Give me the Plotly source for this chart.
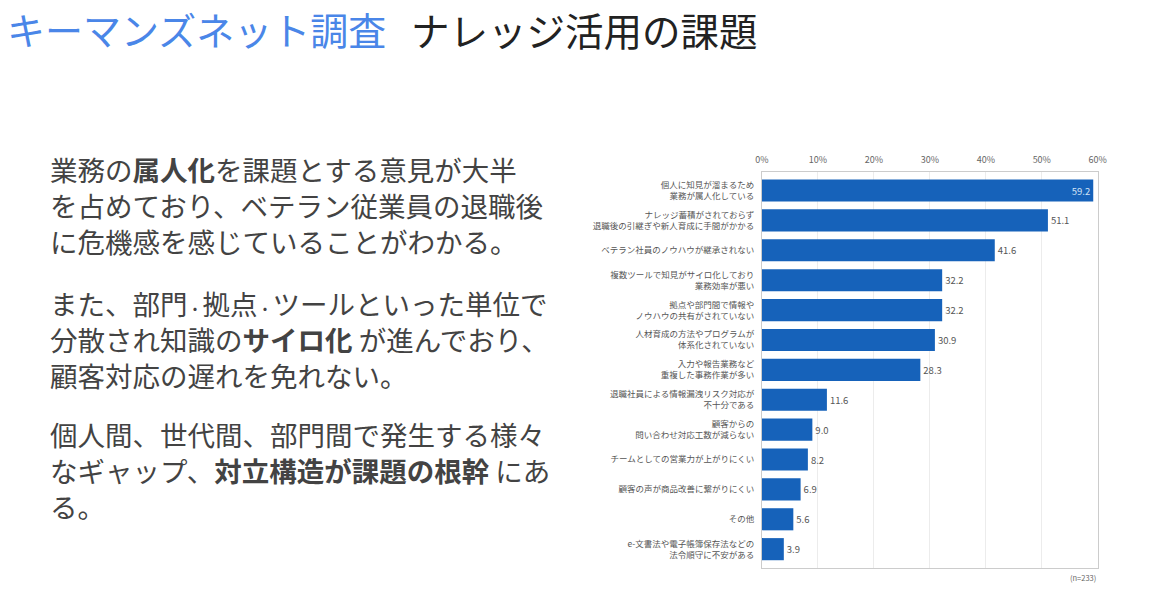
import plotly.graph_objects as go

# ---- data ----
categories = [
    "個人に知見が溜まるため<br>業務が属人化している",
    "ナレッジ蓄積がされておらず<br>退職後の引継ぎや新人育成に手間がかかる",
    "ベテラン社員のノウハウが継承されない",
    "複数ツールで知見がサイロ化しており<br>業務効率が悪い",
    "拠点や部門間で情報や<br>ノウハウの共有がされていない",
    "人材育成の方法やプログラムが<br>体系化されていない",
    "入力や報告業務など<br>重複した事務作業が多い",
    "退職社員による情報漏洩リスク対応が<br>不十分である",
    "顧客からの<br>問い合わせ対応工数が減らない",
    "チームとしての営業力が上がりにくい",
    "顧客の声が商品改善に繋がりにくい",
    "その他",
    "e-文書法や電子帳簿保存法などの<br>法令順守に不安がある",
]
values = [59.2, 51.1, 41.6, 32.2, 32.2, 30.9, 28.3, 11.6, 9.0, 8.2, 6.9, 5.6, 3.9]
x_ticks = [0, 10, 20, 30, 40, 50, 60]
x_tick_labels = ["0%", "10%", "20%", "30%", "40%", "50%", "60%"]
sample_note = "(n=233)"

title_blue = "キーマンズネット調査"
title_black = "ナレッジ活用の課題"
DOT = '<span style="font-size:15px">・</span>'
paragraphs = [
    ["業務の<b>属人化</b>を課題とする意見が大半",
     "を占めており、ベテラン従業員の退職後",
     "に危機感を感じていることがわかる。"],
    ["また、部門" + DOT + "拠点" + DOT + "ツールといった単位で",
     "分散され知識の<b>サイロ化</b> が進んでおり、",
     "顧客対応の遅れを免れない。"],
    ["個人間、世代間、部門間で発生する様々",
     "なギャップ、<b>対立構造が課題の根幹</b> にあ",
     "る。"],
]

# ---- layout geometry (screen pixels) ----
W, H = 1155, 613
L, R, T, B = 762, 1098, 172, 568
PW, PH = R - L, B - T


def px(x):
    return (x - L) / PW


def py(y):
    return (B - y) / PH


bar_color = "#1662BA"
n = len(values)
text_pos = ["inside" if v > 55 else "outside" for v in values]
text_col = ["#d3e2f6" if v > 55 else "#555555" for v in values]

fig = go.Figure(
    go.Bar(
        y=categories,
        x=values,
        orientation="h",
        marker=dict(color=bar_color, line=dict(width=0)),
        texttemplate="%{x:.1f}",
        textposition=text_pos,
        insidetextanchor="end",
        textfont=dict(size=9.5, color=text_col, family="Noto Sans CJK JP"),
        cliponaxis=False,
        width=0.74,
    )
)

fig.update_layout(
    width=W,
    height=H,
    margin=dict(l=L, r=W - R, t=T, b=H - B, pad=0),
    paper_bgcolor="white",
    plot_bgcolor="white",
    showlegend=False,
    font=dict(family="Noto Sans CJK JP", color="#555555"),
    uniformtext=dict(minsize=8, mode="show"),
)

fig.update_xaxes(
    side="top",
    range=[0, 60.05],
    tickvals=x_ticks,
    ticktext=x_tick_labels,
    tickfont=dict(size=9, color="#666666"),
    showgrid=True,
    gridcolor="#ececec",
    gridwidth=1,
    showline=True,
    linecolor="#cccccc",
    mirror=True,
    zeroline=False,
    ticks="",
    ticklabelstandoff=4,
)
fig.update_yaxes(
    type="category",
    range=[n - 1 + 0.63, -0.62],
    tickfont=dict(size=8.5, color="#555555"),
    showline=True,
    linecolor="#cccccc",
    mirror=True,
    ticks="",
    ticklabelstandoff=5,
    showgrid=False,
)

ann = []
ann.append(dict(text=title_blue, x=px(5), y=py(29), xref="paper", yref="paper",
                xanchor="left", yanchor="middle", showarrow=False,
                font=dict(size=38, color="#4A86E8", family="Noto Sans CJK JP")))
ann.append(dict(text=title_black, x=px(409), y=py(29), xref="paper", yref="paper",
                xanchor="left", yanchor="middle", showarrow=False,
                font=dict(size=38.5, color="#222222", family="Noto Sans CJK JP")))

para_y = [205, 339, 470]
for para, yy in zip(paragraphs, para_y):
    ann.append(dict(text="<br>".join(para), x=px(48), y=py(yy), xref="paper", yref="paper",
                    xanchor="left", yanchor="middle", align="left", showarrow=False,
                    font=dict(size=27.5, color="#434343", family="Noto Sans CJK JP")))

ann.append(dict(text=sample_note, x=1.0, y=py(577), xref="paper", yref="paper",
                xanchor="right", yanchor="middle", showarrow=False,
                font=dict(size=7.5, color="#666666")))
fig.update_layout(annotations=ann)

fig.write_html(
    "out.html",
    config={"displayModeBar": False},
    post_script="document.body.style.margin='0';document.body.style.overflow='hidden';",
)
